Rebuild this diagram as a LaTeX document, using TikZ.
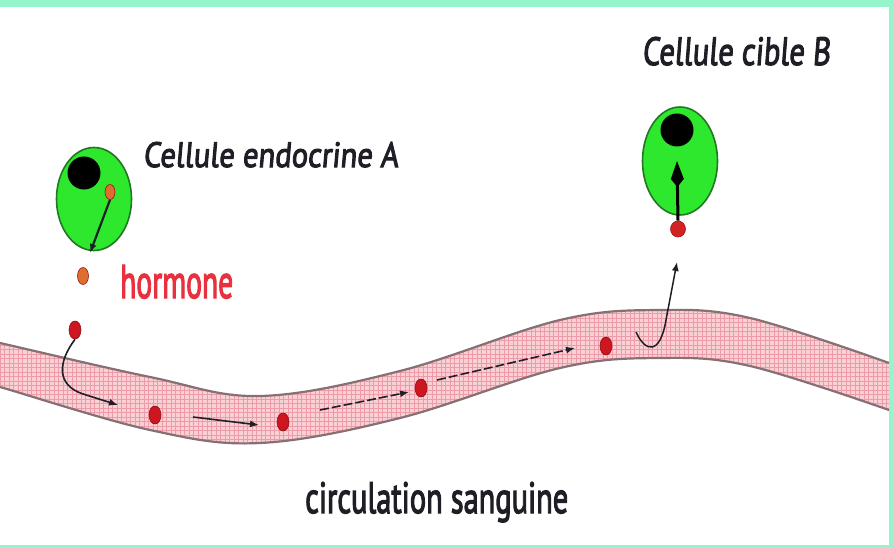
\documentclass[tikz,border=0pt]{standalone}
\usepackage{fontspec}
\usepackage{graphicx}
\setmainfont{PT Sans}[FakeBold=3]
\newfontfamily\tiltfont{PT Sans}[FakeSlant=0.1, FakeBold=3]
\usetikzlibrary{shapes.geometric,arrows.meta}

\definecolor{mint}{RGB}{150,244,204}
\definecolor{cellgreen}{RGB}{46,232,46}
\definecolor{cellrim}{RGB}{34,120,34}
\definecolor{blood}{RGB}{250,208,213}
\definecolor{bloodgrid}{RGB}{236,156,168}
\definecolor{vesselrim}{RGB}{135,112,115}
\definecolor{hormred}{RGB}{205,22,32}
\definecolor{hormorange}{RGB}{222,110,45}
\definecolor{inkgray}{RGB}{30,30,38}
\definecolor{labelred}{RGB}{232,48,62}

\tikzset{
  cell/.style={ellipse, draw=cellrim, line width=1.6pt, fill=cellgreen, inner sep=0pt},
  nucleus/.style={circle, fill=black, inner sep=0pt},
  hdot/.style={ellipse, fill=hormred, draw=hormred!70!black, line width=0.6pt,
               minimum width=12pt, minimum height=18pt, inner sep=0pt},
  odot/.style={ellipse, fill=hormorange, draw=hormred!80!black, line width=0.6pt,
               minimum width=11pt, minimum height=17pt, inner sep=0pt},
  flow/.style={draw=inkgray, line width=1.6pt, -{Latex[length=9pt,width=7pt]}},
  dashflow/.style={flow, dash pattern=on 9pt off 3pt},
  txt/.style={inner sep=0pt, anchor=base west, text=inkgray},
}

\begin{document}
\begin{tikzpicture}[x=1pt,y=-1pt]
  % page with its mint frame
  \useasboundingbox (0,0) rectangle (893,548);
  \fill[white] (0,0) rectangle (893,548);
  \fill[mint] (0,0) rectangle (893,7);
  \fill[mint] (889,0) rectangle (893,548);
  \fill[mint] (0,545) rectangle (893,548);

  % blood vessel: pink band with a fine grid
  \fill[blood]
    plot[smooth, tension=0.6] coordinates {(-6,342) (0,343) (150,377) (260,396) (400,371) (560,320) (660,310) (750,318) (889,363)}
    -- plot[smooth, tension=0.6] coordinates {(889,410) (750,366) (660,358) (560,368) (400,418) (260,443) (150,430) (0,387) (-6,386)}
    -- cycle;
  \begin{scope}
    \clip
      plot[smooth, tension=0.6] coordinates {(-6,342) (0,343) (150,377) (260,396) (400,371) (560,320) (660,310) (750,318) (889,363)}
      -- plot[smooth, tension=0.6] coordinates {(889,410) (750,366) (660,358) (560,368) (400,418) (260,443) (150,430) (0,387) (-6,386)}
      -- cycle;
    \foreach \gx in {0,4.5,...,890} \draw[bloodgrid, line width=0.7pt] (\gx,300) -- (\gx,460);
    \foreach \gy in {300,304.5,...,460} \draw[bloodgrid, line width=0.7pt] (0,\gy) -- (889,\gy);
  \end{scope}
  \draw[vesselrim, line width=2.2pt]
    plot[smooth, tension=0.6] coordinates {(-6,342) (0,343) (150,377) (260,396) (400,371) (560,320) (660,310) (750,318) (889,363)};
  \draw[vesselrim, line width=2.2pt]
    plot[smooth, tension=0.6] coordinates {(889,410) (750,366) (660,358) (560,368) (400,418) (260,443) (150,430) (0,387) (-6,386)};

  % endocrine cell A
  \node[cell, minimum width=75pt, minimum height=103pt] (cellA) at (94,199) {};
  \node[nucleus, minimum size=33pt] (nucA) at (84,173) {};
  \node[odot, minimum width=10pt, minimum height=15pt] (vesA) at (110,192) {};
  \coordinate (exitA) at (90,253);
  \draw[flow, line width=2.2pt] (vesA.south) -- (exitA);

  % hormone on its way to the blood
  \node[odot] (h0) at (83,276) {};
  \node[hdot] (h1) at (75,330) {};
  \coordinate (in1) at (118,405);
  \draw[flow] (h1.south) .. controls (58,362) and (56,385) .. (83,394) -- (in1);

  % hormone carried by the blood
  \node[hdot] (h2) at (155,415) {};
  \node[hdot] (h3) at (283,422) {};
  \node[hdot] (h4) at (421,388) {};
  \node[hdot] (h5) at (606,346) {};
  \coordinate (a2s) at (193,417);
  \coordinate (a2e) at (259,425);
  \coordinate (a3s) at (320,410);
  \coordinate (a3e) at (409,392);
  \coordinate (a4s) at (437,380);
  \coordinate (a4e) at (575,348);
  \draw[flow] (a2s) -- (a2e);
  \draw[dashflow] (a3s) -- (a3e);
  \draw[dashflow] (a4s) -- (a4e);

  % leaving the vessel towards the target cell
  \coordinate (outS) at (636,332);
  \coordinate (outE) at (677,262);
  \draw[flow, line width=1.5pt] (outS) .. controls (645,352) and (660,356) .. (666,320) -- (outE);

  % target cell B with its receptor
  \node[cell, minimum width=75pt, minimum height=108pt] (cellB) at (680,161) {};
  \node[nucleus, minimum size=33pt] (nucB) at (677,130) {};
  \node[odot, fill=hormred!85!hormorange, minimum width=15pt, minimum height=16pt] (recB) at (678,229) {};
  \coordinate (sigB) at (677,161);
  \draw[draw=black, line width=3pt, -{Kite[length=26pt,width=13pt,inset=8pt]}] (recB.north) -- (sigB);

  % labels
  \node[txt] (labA) at (143,167) {\resizebox{255pt}{25pt}{\tiltfont Cellule endocrine A}};
  \node[txt] (labB) at (642,65) {\resizebox{188pt}{28pt}{\tiltfont Cellule cible B}};
  \node[txt, text=labelred] (labH) at (120,298) {\resizebox{113pt}{33pt}{hormone}};
  \node[txt] (labC) at (305,513) {\resizebox{263pt}{31pt}{circulation sanguine}};
\end{tikzpicture}
\end{document}
